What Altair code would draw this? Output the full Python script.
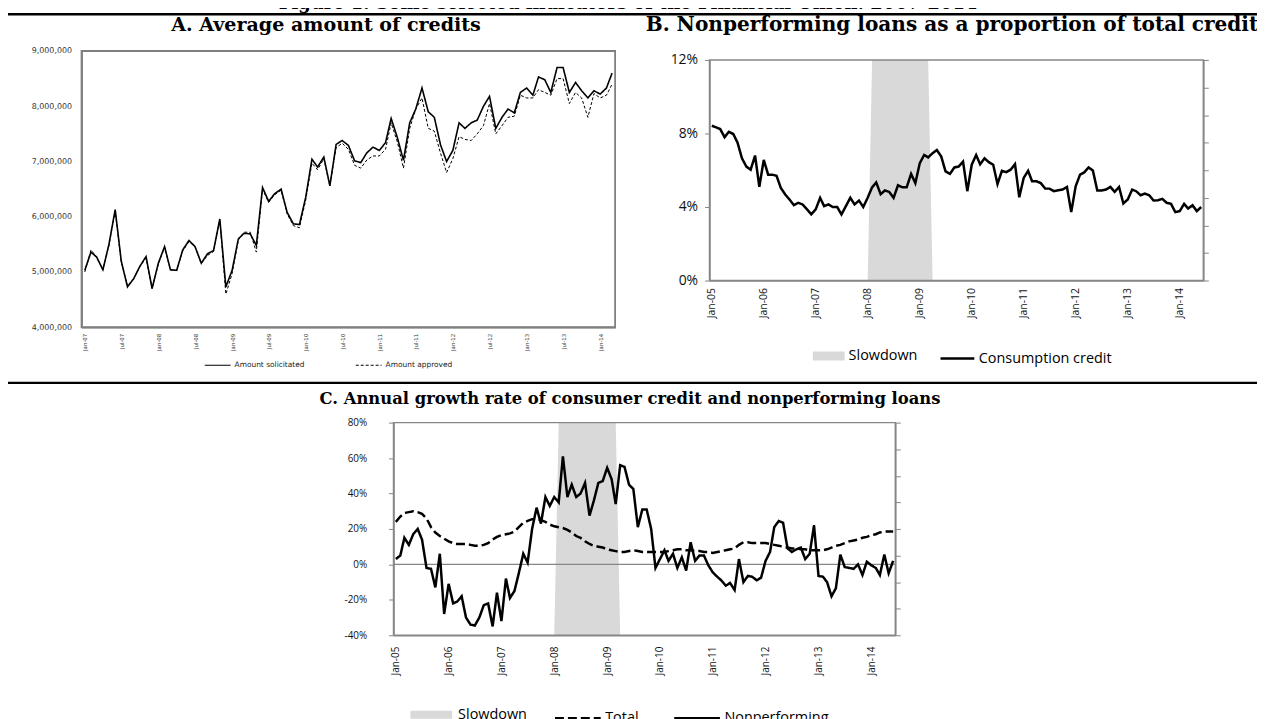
import altair as alt
import pandas as pd

# ------------------------------------------------------------------ texts
FIG_TITLE = "Figure 1. Some selected indicators of the Financial Union: 2007-2014"
TITLE_A = "A. Average amount of credits"
TITLE_B = "B. Nonperforming loans as a proportion of total credit"
TITLE_C = "C. Annual growth rate of consumer credit and nonperforming loans"
MONTH_ABBR = ["Jan", "Feb", "Mar", "Apr", "May", "Jun", "Jul", "Aug", "Sep", "Oct", "Nov", "Dec"]

# ------------------------------------------------------------------ panel A data (monthly, Jan-07 .. Mar-14, millions)
A_START = "2007-01-01"
A_SERIES = ["Amount solicitated", "Amount approved"]
amount_solicitated = [
    5.03, 5.36, 5.27, 5.04, 5.50, 6.13, 5.20, 4.73, 4.88, 5.10,
    5.28, 4.70, 5.16, 5.46, 5.04, 5.03, 5.40, 5.57, 5.46, 5.16,
    5.33, 5.39, 5.96, 4.73, 5.03, 5.60, 5.70, 5.69, 5.48, 6.53,
    6.28, 6.42, 6.50, 6.08, 5.87, 5.86, 6.35, 7.04, 6.90, 7.08,
    6.56, 7.31, 7.38, 7.29, 7.01, 6.98, 7.16, 7.26, 7.20, 7.34,
    7.78, 7.43, 7.02, 7.70, 7.95, 8.33, 7.90, 7.80, 7.30, 7.00,
    7.20, 7.70, 7.60, 7.70, 7.75, 8.00, 8.18, 7.60, 7.80, 7.95,
    7.88, 8.25, 8.33, 8.20, 8.53, 8.48, 8.25, 8.70, 8.70, 8.25,
    8.43, 8.28, 8.15, 8.28, 8.22, 8.33, 8.60,
]
amount_approved = [
    5.00, 5.40, 5.27, 5.04, 5.48, 6.10, 5.18, 4.75, 4.88, 5.10,
    5.25, 4.70, 5.14, 5.45, 5.04, 5.03, 5.38, 5.55, 5.46, 5.15,
    5.30, 5.37, 5.94, 4.60, 4.97, 5.58, 5.72, 5.72, 5.36, 6.50,
    6.26, 6.40, 6.48, 6.05, 5.84, 5.80, 6.30, 6.97, 6.85, 7.05,
    6.56, 7.25, 7.33, 7.22, 6.93, 6.88, 7.03, 7.10, 7.10, 7.22,
    7.70, 7.35, 6.88, 7.60, 7.95, 8.15, 7.60, 7.55, 7.15, 6.80,
    7.05, 7.45, 7.40, 7.38, 7.50, 7.65, 8.05, 7.50, 7.65, 7.80,
    7.82, 8.20, 8.15, 8.15, 8.30, 8.25, 8.20, 8.50, 8.50, 8.05,
    8.25, 8.15, 7.80, 8.23, 8.15, 8.20, 8.40,
]
A_TICKS = [(2007, 1), (2007, 7), (2008, 1), (2008, 7), (2009, 1), (2009, 7),
           (2010, 1), (2010, 7), (2011, 1), (2011, 7), (2012, 1), (2012, 7),
           (2013, 1), (2013, 7), (2014, 1)]
A_YTICKS = [4000000, 5000000, 6000000, 7000000, 8000000, 9000000]

# ------------------------------------------------------------------ panels B and C data (monthly, Jan-05 .. Jun-14)
BC_START = "2005-01-01"
BC_TICKS = [(2005, 1), (2006, 1), (2007, 1), (2008, 1), (2009, 1),
            (2010, 1), (2011, 1), (2012, 1), (2013, 1), (2014, 1)]
B_SERIES = ["Slowdown", "Consumption credit"]
C_SERIES = ["Total", "Nonperforming"]

consumption_credit = [
    8.42, 8.33, 8.24, 7.80, 8.09, 7.97, 7.50, 6.65, 6.20, 6.03,
    6.80, 5.10, 6.56, 5.76, 5.76, 5.70, 5.04, 4.68, 4.41, 4.10,
    4.23, 4.14, 3.87, 3.60, 3.87, 4.50, 4.05, 4.14, 4.00, 4.00,
    3.60, 4.05, 4.50, 4.14, 4.35, 4.00, 4.50, 5.07, 5.34, 4.70,
    4.90, 4.82, 4.50, 5.18, 5.07, 5.07, 5.80, 5.30, 6.38, 6.83,
    6.70, 6.93, 7.10, 6.74, 5.94, 5.80, 6.15, 6.20, 6.47, 4.86,
    6.30, 6.83, 6.33, 6.65, 6.44, 6.30, 5.25, 5.97, 5.90, 6.03,
    6.33, 4.53, 5.58, 5.97, 5.40, 5.40, 5.30, 5.00, 5.00, 4.86,
    4.91, 4.95, 5.09, 3.72, 5.13, 5.76, 5.88, 6.15, 5.99, 4.90,
    4.90, 4.95, 5.09, 4.82, 5.09, 4.19, 4.41, 4.95, 4.86, 4.64,
    4.73, 4.64, 4.35, 4.37, 4.44, 4.23, 4.17, 3.72, 3.78, 4.17,
    3.92, 4.10, 3.78, 4.00,
]
slowdown = [
    0, 0, 0, 0, 0, 0, 0, 0, 0, 0, 0, 0,   # 2005
    0, 0, 0, 0, 0, 0, 0, 0, 0, 0, 0, 0,   # 2006
    0, 0, 0, 0, 0, 0, 0, 0, 0, 0, 0, 0,   # 2007
    0, 1, 1, 1, 1, 1, 1, 1, 1, 1, 1, 1,   # 2008
    1, 1, 1, 0, 0, 0, 0, 0, 0, 0, 0, 0,   # 2009
    0, 0, 0, 0, 0, 0, 0, 0, 0, 0, 0, 0,   # 2010
    0, 0, 0, 0, 0, 0, 0, 0, 0, 0, 0, 0,   # 2011
    0, 0, 0, 0, 0, 0, 0, 0, 0, 0, 0, 0,   # 2012
    0, 0, 0, 0, 0, 0, 0, 0, 0, 0, 0, 0,   # 2013
    0, 0, 0, 0, 0, 0,                     # 2014
]
growth_total = [
    24, 27, 29, 29.5, 30, 29.5, 28.5, 26, 21, 18,
    16, 14.5, 13, 12, 11.5, 11.5, 11.5, 11, 10.5, 10.5,
    11, 12, 14, 15.5, 16.5, 17, 17.5, 18.5, 21, 23.5,
    24.5, 25.5, 25.5, 25, 24, 22.5, 21.5, 21, 20.5, 19.5,
    18, 16, 15, 13, 11.5, 10.5, 10, 9.5, 8.5, 8,
    7.5, 7, 7, 7.5, 8, 7.5, 7, 7, 7, 7,
    7, 7, 7.5, 8, 8.5, 8.5, 8, 8, 7.5, 7.5,
    7, 7, 6.5, 7, 7.5, 8, 8.5, 9, 11, 12.5,
    12.5, 12, 12, 12, 12, 11.5, 11, 10.5, 10, 9.5,
    9, 9, 8.5, 8.5, 8, 8, 8, 8, 8.5, 9.5,
    10.5, 11, 12, 13, 13.5, 14, 15, 15.5, 16.5, 17,
    18, 18.5, 18.5, 18.5,
]
growth_nonperforming = [
    3, 5, 15, 11, 17, 20, 14, -2, -2.5, -13,
    6, -28, -11, -22, -21, -18, -30, -34, -34.5, -30,
    -23, -22, -35, -16, -32, -8, -19, -15, -5, 6,
    1, 20, 32, 23, 38, 33, 38, 35, 61, 38,
    45, 38, 40, 46, 27.5, 36, 46, 47, 54.5, 48,
    34, 56, 55, 45, 42.5, 21, 31, 31, 20, -2,
    3, 8, 2, 6, -2, 4, -3.5, 12.5, 2, 5,
    5, -0.5, -4.5, -7, -9, -12, -10.5, -14.5, 3, -10,
    -6.5, -7, -9, -7.5, 2, 7, 21, 24.5, 23.5, 9,
    7, 8.5, 9.5, 3, 6, 22, -6.5, -7, -10, -18,
    -13.5, 5.5, -1.5, -2, -2.5, 0, -6, 1.5, -0.5, -2,
    -6, 5.5, -5, 2,
]

# ------------------------------------------------------------------ styling / layout
W, H = 1257, 711
GRAY = "#868686"
SHADE = "#d9d9d9"
SERIF = "DejaVu Serif"
SANS_A = "DejaVu Sans"
SANS = "Open Sans"
MONTH_EXPR = ("[" + ",".join(f"'{m}'" for m in MONTH_ABBR) + "][month(datum.value)]"
              " + '-' + substring(toString(year(datum.value)), 2)")


def dt(y, m, d=1):
    return alt.DateTime(year=y, month=m, date=d)


ONE = pd.DataFrame({"k": [0]})

# domains (Excel category axes: half a month on each side)
A_X0, A_X1 = pd.Timestamp("2006-12-16"), pd.Timestamp("2014-03-16")
BC_X0, BC_X1 = pd.Timestamp("2004-12-16"), pd.Timestamp("2014-06-16")


def tscale(t0, t1, rng):
    return alt.Scale(domain=[dt(t0.year, t0.month, t0.day), dt(t1.year, t1.month, t1.day)],
                     range=rng, nice=False)


def frame(t0, t1, y0, y1, xs, ys, xaxis, yaxis, color=GRAY, width=1.5):
    df = pd.DataFrame({"x0": [t0], "x1": [t1], "y0": [y0], "y1": [y1]})
    return alt.Chart(df).mark_rect(filled=False, stroke=color, strokeWidth=width).encode(
        x=alt.X("x0:T", scale=xs, axis=xaxis), x2=alt.X2("x1"),
        y=alt.Y("y0:Q", scale=ys, axis=yaxis), y2=alt.Y2("y1"))


def right_axis(offset):
    return alt.Axis(orient="right", offset=offset, values=[i / 8 for i in range(9)],
                    labels=False, ticks=True, tickSize=5, tickColor=GRAY, tickWidth=1,
                    domain=True, domainColor=GRAY, domainWidth=1.5, grid=False, title=None)


def time_xaxis(offset, ticks, pad, font, size, color, dom_color, dom_width):
    return alt.Axis(orient="bottom", offset=offset, values=[dt(y, m) for y, m in ticks],
                    labelExpr=MONTH_EXPR, labelAngle=-90, labelFont=font, labelFontSize=size,
                    labelColor=color, labelPadding=pad, ticks=True, tickSize=5,
                    tickColor=dom_color, tickWidth=0, domain=True, domainColor=dom_color,
                    domainWidth=dom_width, grid=False, title=None, labelOverlap=False,
                    labelFlush=False)


def pct_yaxis(offset, values, pad, size):
    return alt.Axis(orient="left", offset=offset, values=values, labelExpr="datum.value + '%'",
                    labelFont=SANS, labelFontSize=size, labelColor="#111", labelPadding=pad,
                    ticks=True, tickSize=5, tickColor=GRAY, domain=True, domainColor=GRAY,
                    domainWidth=1.5, grid=False, title=None)


# ------------------------------------------------------------------ panel A
nA = len(amount_solicitated)
datesA = pd.date_range(A_START, periods=nA, freq="MS")
dfA = pd.DataFrame({
    "date": list(datesA) * 2,
    "amount": [v * 1e6 for v in amount_solicitated] + [v * 1e6 for v in amount_approved],
    "series": [A_SERIES[0]] * nA + [A_SERIES[1]] * nA,
})
xA = tscale(A_X0, A_X1, [74, 611])
yA = alt.Scale(domain=[A_YTICKS[0], A_YTICKS[-1]], range=[319, 41], nice=False, zero=False)
A_FRAME = "#7f7f7f"
axA_x = time_xaxis(319 - H, A_TICKS, 1, SANS_A, 5.5, "#333", A_FRAME, 1.8)
axA_y = alt.Axis(
    orient="left", offset=-74, values=A_YTICKS,
    labelExpr="(datum.value / 1000000) + ',000,000'", labelFont=SANS_A,
    labelFontSize=8, labelColor="#333", labelPadding=5, ticks=True, tickSize=5,
    tickWidth=0, tickColor=A_FRAME, domain=True, domainColor=A_FRAME, domainWidth=1.8,
    grid=False, title=None, labelOverlap=False, labelFlush=False)

linesA = alt.Chart(dfA).mark_line(color="black").encode(
    x=alt.X("date:T", scale=xA, axis=axA_x),
    y=alt.Y("amount:Q", scale=yA, axis=axA_y),
    strokeDash=alt.StrokeDash("series:N", scale=alt.Scale(domain=A_SERIES, range=[[1, 0], [3, 2]]),
                              legend=alt.Legend(orient="none", legendX=197, legendY=343,
                                                direction="horizontal", title=None,
                                                symbolType="stroke", symbolSize=676,
                                                symbolStrokeColor="black", symbolStrokeWidth=1.2,
                                                labelFont=SANS_A, labelFontSize=7.5,
                                                labelColor="#222", labelOffset=3,
                                                columnPadding=48)),
    strokeWidth=alt.condition(f"datum.series === '{A_SERIES[0]}'", alt.value(1.6), alt.value(1.0)),
)
panelA = alt.layer(
    linesA,
    frame(A_X0, A_X1, A_YTICKS[0], A_YTICKS[-1], xA, yA, axA_x, axA_y, color=A_FRAME, width=1.8),
)

# ------------------------------------------------------------------ panel B
nB = len(consumption_credit)
datesBC = pd.date_range(BC_START, periods=nB, freq="MS")
dfB = pd.DataFrame({"date": datesBC, "cc": consumption_credit, "slow": slowdown,
                    "band": B_SERIES[0], "ser": B_SERIES[1]})
xB = tscale(BC_X0, BC_X1, [706, 1203])
yB = alt.Scale(domain=[0, 12], range=[272, 50], nice=False, zero=False)
yB2 = alt.Scale(domain=[0, 1], range=[272, 50], nice=False)
axB_x = time_xaxis(272 - H, BC_TICKS, 2, SANS, 10.5, "#111", GRAY, 1.5)

areaB = alt.Chart(dfB).mark_area().encode(
    x=alt.X("date:T", scale=xB, axis=axB_x),
    y=alt.Y("slow:Q", scale=yB2, axis=right_axis(1203 - W)),
    fill=alt.Fill("band:N", scale=alt.Scale(domain=[B_SERIES[0]], range=[SHADE]),
                  legend=alt.Legend(orient="none", legendX=810, legendY=332,
                                    direction="horizontal", title=None,
                                    symbolType="M-1,-0.28H1V0.28H-1Z", symbolSize=1024,
                                    symbolStrokeWidth=0, labelFont=SANS, labelFontSize=14.5,
                                    labelColor="#000", labelOffset=4)),
)
lineB = alt.Chart(dfB).mark_line(strokeWidth=2.5).encode(
    x=alt.X("date:T", scale=xB, axis=axB_x),
    y=alt.Y("cc:Q", scale=yB, axis=pct_yaxis(-706, [0, 4, 8, 12], 7, 14)),
    color=alt.Color("ser:N", scale=alt.Scale(domain=[B_SERIES[1]], range=["black"]),
                    legend=alt.Legend(orient="none", legendX=937, legendY=332,
                                      direction="horizontal", title=None, symbolType="stroke",
                                      symbolSize=1156, symbolStrokeWidth=2.5,
                                      labelFont=SANS, labelFontSize=14.5, labelColor="#000",
                                      labelOffset=3)),
)
panelB = alt.layer(
    areaB, lineB, frame(BC_X0, BC_X1, 0, 12, xB, yB, axB_x, None),
).resolve_scale(y="independent")

# ------------------------------------------------------------------ panel C
dfCa = pd.DataFrame({"date": datesBC, "slow": slowdown, "band": B_SERIES[0]})
dfCl = pd.DataFrame({
    "date": list(datesBC) * 2,
    "growth": growth_total + growth_nonperforming,
    "series": [C_SERIES[0]] * nB + [C_SERIES[1]] * nB,
})
xC = tscale(BC_X0, BC_X1, [388, 893])
yC = alt.Scale(domain=[-40, 80], range=[629, 415], nice=False, zero=False)
yC2 = alt.Scale(domain=[0, 1], range=[629, 415], nice=False)
axC_x = time_xaxis(629 - H, BC_TICKS, 6, SANS, 10, "#111", GRAY, 1.5)

areaC = alt.Chart(dfCa).mark_area().encode(
    x=alt.X("date:T", scale=xC, axis=axC_x),
    y=alt.Y("slow:Q", scale=yC2, axis=right_axis(893 - W)),
    fill=alt.Fill("band:N", scale=alt.Scale(domain=[B_SERIES[0]], range=[SHADE]),
                  legend=alt.Legend(orient="none", legendX=405, legendY=688,
                                    direction="horizontal", title=None,
                                    symbolType="M-1,-0.19H1V0.19H-1Z", symbolSize=1764,
                                    symbolStrokeWidth=0, labelFont=SANS, labelFontSize=14.5,
                                    labelColor="#000", labelOffset=6)),
)
zeroC = alt.Chart(pd.DataFrame({"x0": [BC_X0], "x1": [BC_X1], "zero": [0]})).mark_rule(
    color=GRAY, strokeWidth=1.2).encode(
    x=alt.X("x0:T", scale=xC, axis=axC_x), x2=alt.X2("x1"),
    y=alt.Y("zero:Q", scale=yC, axis=None))
linesC = alt.Chart(dfCl).mark_line(color="black", strokeWidth=2.5).encode(
    x=alt.X("date:T", scale=xC, axis=axC_x),
    y=alt.Y("growth:Q", scale=yC, axis=pct_yaxis(-388, [-40, -20, 0, 20, 40, 60, 80], 22, 10)),
    strokeDash=alt.StrokeDash("series:N", scale=alt.Scale(domain=C_SERIES, range=[[9, 4], [1, 0]]),
                              legend=alt.Legend(orient="none", legendX=549, legendY=688,
                                                direction="horizontal", title=None,
                                                symbolType="stroke", symbolSize=2116,
                                                symbolStrokeColor="black", symbolStrokeWidth=2.5,
                                                labelFont=SANS, labelFontSize=14.5,
                                                labelColor="#000", labelOffset=3,
                                                columnPadding=30)),
)
panelC = alt.layer(
    areaC, zeroC, linesC, frame(BC_X0, BC_X1, -40, 80, xC, yC, axC_x, None),
).resolve_scale(y="independent")

# ------------------------------------------------------------------ titles and separators
def title_text(txt, x, y, size):
    return alt.Chart(ONE).mark_text(text=txt, font=SERIF, fontSize=size, fontWeight="bold",
                                    align="center", baseline="alphabetic", color="black").encode(
        x=alt.value(x), y=alt.value(y))


def sep_rule(y):
    return alt.Chart(ONE).mark_rule(color="black", strokeWidth=2.5).encode(
        x=alt.value(-5), x2=alt.value(W), y=alt.value(y))


chart = alt.layer(
    sep_rule(4), sep_rule(375),
    title_text(FIG_TITLE, 624, -1, 18),
    title_text(TITLE_A, 320, 21, 19.2),
    title_text(TITLE_B, 950, 21, 20.2),
    title_text(TITLE_C, 626, 396, 16.5),
    panelA, panelB, panelC,
).resolve_scale(
    x="independent", y="independent", fill="independent", strokeDash="independent",
    color="independent",
).properties(
    width=W, height=H, padding=0, autosize=alt.AutoSizeParams(type="none"),
).configure_view(stroke=None).configure_axis(grid=False)

chart.save("out.html", embed_options={"renderer": "svg", "actions": False})
